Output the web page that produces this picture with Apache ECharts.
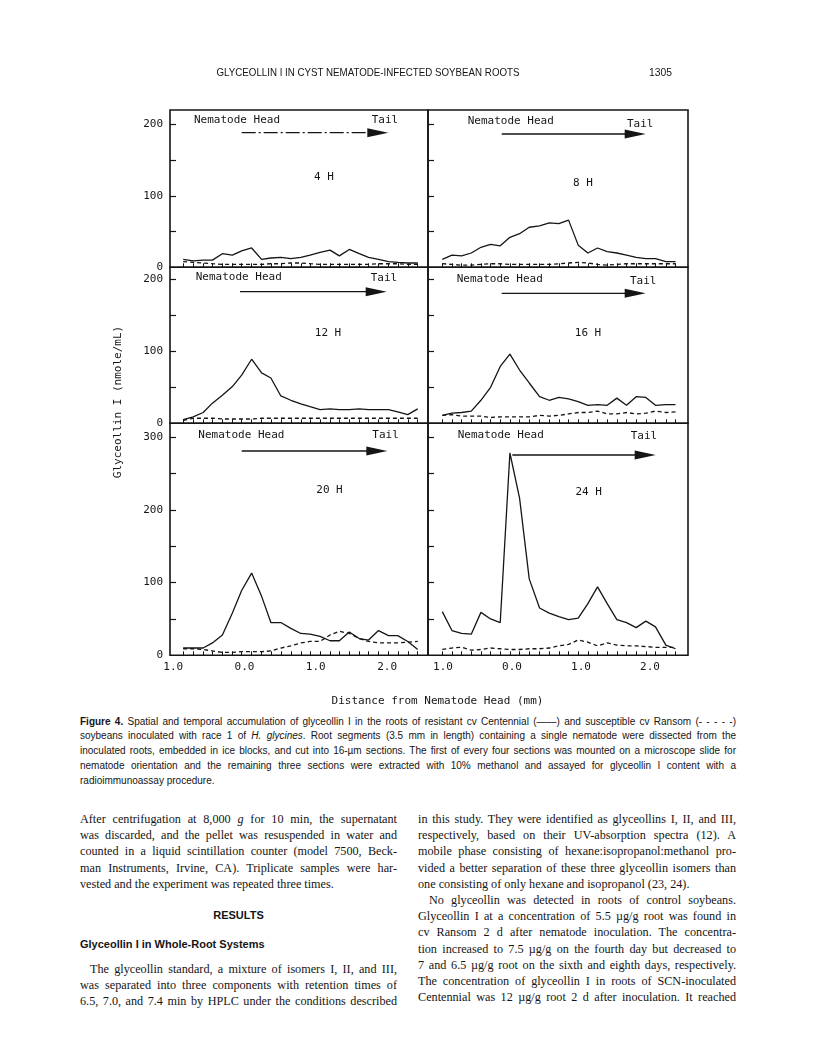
<!DOCTYPE html>
<html><head><meta charset="utf-8">
<script src="https://cdn.jsdelivr.net/npm/echarts@6/dist/echarts.min.js"></script>
<style>
html,body{margin:0;padding:0;background:#fff;}
body{width:816px;height:1052px;position:relative;overflow:hidden;}
#chart{position:absolute;left:0;top:0;width:816px;height:715px;}
#hdr{position:absolute;left:0;top:60px;width:816px;height:20px;}
.t{position:absolute;color:#151515;}
.j{text-align:justify;text-align-last:justify;}
.cap{font-family:'Liberation Sans',Arial,sans-serif;font-size:10px;line-height:14.8px;left:80px;width:656px;}
.bd{font-family:'Liberation Serif','Times New Roman',serif;font-size:12.2px;line-height:16.2px;}
.L{left:80px;width:317px;}
.R{left:418px;width:318px;}
.hs{font-family:'Liberation Sans',Arial,sans-serif;font-weight:bold;font-size:11px;line-height:16px;}
</style></head>
<body>
<div id="chart"></div>

<svg id="hdr" width="816" height="20" xmlns="http://www.w3.org/2000/svg">
  <text x="216.5" y="16" font-family="Liberation Sans, Arial, sans-serif" font-size="10.2" fill="#151515" textLength="303" lengthAdjust="spacingAndGlyphs">GLYCEOLLIN I IN CYST NEMATODE-INFECTED SOYBEAN ROOTS</text>
  <text x="649" y="16" font-family="Liberation Sans, Arial, sans-serif" font-size="10.2" fill="#151515" textLength="23" lengthAdjust="spacingAndGlyphs">1305</text>
</svg>

<div class="t cap j" style="top:714.6px;"><b>Figure 4.</b> Spatial and temporal accumulation of glyceollin I in the roots of resistant cv Centennial (——) and susceptible cv Ransom (- - - - -)</div>
<div class="t cap j" style="top:729.4px;">soybeans inoculated with race 1 of <i>H. glycines</i>. Root segments (3.5 mm in length) containing a single nematode were dissected from the</div>
<div class="t cap j" style="top:744.2px;">inoculated roots, embedded in ice blocks, and cut into 16-µm sections. The first of every four sections was mounted on a microscope slide for</div>
<div class="t cap j" style="top:759px;">nematode orientation and the remaining three sections were extracted with 10% methanol and assayed for glyceollin I content with a</div>
<div class="t cap" style="top:773.8px;">radioimmunoassay procedure.</div>

<div class="t bd L j" style="top:811px;">After centrifugation at 8,000 <i>g</i> for 10 min, the supernatant</div>
<div class="t bd L j" style="top:827.2px;">was discarded, and the pellet was resuspended in water and</div>
<div class="t bd L j" style="top:843.4px;">counted in a liquid scintillation counter (model 7500, Beck-</div>
<div class="t bd L j" style="top:859.6px;">man Instruments, Irvine, CA). Triplicate samples were har-</div>
<div class="t bd L" style="top:875.8px;">vested and the experiment was repeated three times.</div>
<div class="t hs L" style="top:907px;text-align:center;">RESULTS</div>
<div class="t hs L" style="top:936px;">Glyceollin I in Whole-Root Systems</div>
<div class="t bd j" style="left:90px;width:307px;top:961px;">The glyceollin standard, a mixture of isomers I, II, and III,</div>
<div class="t bd L j" style="top:977.2px;">was separated into three components with retention times of</div>
<div class="t bd L j" style="top:993.4px;">6.5, 7.0, and 7.4 min by HPLC under the conditions described</div>

<div class="t bd R j" style="top:811px;">in this study. They were identified as glyceollins I, II, and III,</div>
<div class="t bd R j" style="top:827.2px;">respectively, based on their UV-absorption spectra (12). A</div>
<div class="t bd R j" style="top:843.4px;">mobile phase consisting of hexane:isopropanol:methanol pro-</div>
<div class="t bd R j" style="top:859.6px;">vided a better separation of these three glyceollin isomers than</div>
<div class="t bd R" style="top:875.8px;">one consisting of only hexane and isopropanol (23, 24).</div>
<div class="t bd j" style="left:429px;width:307px;top:892px;">No glyceollin was detected in roots of control soybeans.</div>
<div class="t bd R j" style="top:908.2px;">Glyceollin I at a concentration of 5.5 µg/g root was found in</div>
<div class="t bd R j" style="top:924.4px;">cv Ransom 2 d after nematode inoculation. The concentra-</div>
<div class="t bd R j" style="top:940.6px;">tion increased to 7.5 µg/g on the fourth day but decreased to</div>
<div class="t bd R j" style="top:956.8px;">7 and 6.5 µg/g root on the sixth and eighth days, respectively.</div>
<div class="t bd R j" style="top:973px;">The concentration of glyceollin I in roots of SCN-inoculated</div>
<div class="t bd R j" style="top:989.2px;">Centennial was 12 µg/g root 2 d after inoculation. It reached</div>

<script>
// ---- data (distance from nematode head, mm; glyceollin I, nmole/mL) ----
const xsLeft  = [-0.86,-0.72,-0.58,-0.45,-0.31,-0.17,-0.04,0.10,0.24,0.37,0.51,0.65,0.79,0.92,1.06,1.20,1.33,1.47,1.61,1.74,1.88,2.02,2.15,2.29,2.43];
const xsRight = [-1.01,-0.87,-0.73,-0.59,-0.45,-0.31,-0.17,-0.03,0.11,0.25,0.40,0.54,0.68,0.82,0.96,1.10,1.24,1.38,1.52,1.66,1.80,1.94,2.08,2.23,2.37];

const centennial4H  = [11,9,10,10,19,17,23,27,11,13,14,12,14,17,21,24,16,25,19,14,11,8,7,6,6];
const ransom4H      = [8,7,6,5,4,4,4,4,4,5,5,6,6,5,4,4,4,4,4,4,5,5,5,4,4];
const centennial8H  = [11,17,16,20,28,32,30,42,47,56,58,62,61,66,31,20,27,22,20,17,14,12,12,8,8];
const ransom8H      = [5,4,3,3,4,5,5,4,4,4,4,4,5,6,7,6,4,3,4,5,5,5,5,5,5];
const centennial12H = [5,9,15,28,39,51,67,89,70,63,38,32,27,23,19,20,19,19,20,19,19,19,16,12,20];
const ransom12H     = [4,7,7,7,6,6,6,6,7,7,7,7,7,7,7,7,7,7,7,7,7,7,7,7,7];
const centennial16H = [11,14,15,17,32,50,79,96,74,56,37,32,36,34,30,25,26,25,35,25,37,36,25,26,26];
const ransom16H     = [11,12,10,10,10,8,9,9,9,9,11,10,11,13,15,15,17,13,13,15,13,14,17,15,16];
const centennial20H = [10,10,10,17,28,58,89,113,81,45,45,37,30,29,26,20,20,32,23,21,34,27,27,19,8];
const ransom20H     = [9,9,8,6,4,4,5,5,5,6,10,13,17,19,19,28,33,30,23,19,17,17,17,18,19];
const centennial24H = [60,34,30,29,59,50,45,278,216,105,65,58,53,49,51,71,94,71,49,45,38,47,39,14,9];
const ransom24H     = [8,10,11,7,8,10,9,8,8,9,9,10,13,15,21,18,13,17,14,13,13,12,11,11,11];

const panelLabels = ['4 H','8 H','12 H','16 H','20 H','24 H'];
const yTicksTop = [50,100,150,200];
const yLabelsTop = [0,100,200];
const yTicksBottom = [50,100,150,200,250,300];
const yLabelsBottom = [0,100,200,300];
const xLabelValues = [-1,0,1,2];

const centennial = [centennial4H,centennial8H,centennial12H,centennial16H,centennial20H,centennial24H];
const ransom = [ransom4H,ransom8H,ransom12H,ransom16H,ransom20H,ransom24H];

// ---- layout ----
const grids = [
  {left:170, top:110,   width:258, height:157.3},
  {left:428, top:110,   width:260, height:157.3},
  {left:170, top:267.3, width:258, height:156},
  {left:428, top:267.3, width:260, height:156},
  {left:170, top:423.3, width:258, height:232},
  {left:428, top:423.3, width:260, height:232}
];
const yMax = [220,220,216.7,216.7,318.8,318.8];
const xRangeLeft = [-1.045, 2.574];
const xRangeRight = [-1.217, 2.551];
const ann = [
  {head:[194,120],   tail:[371.7,120], lab:[324,176.7],   arrow:[241.7,388.3,132.7], dash:[14,3,2,3]},
  {head:[467.7,120.7], tail:[627,124], lab:[583,182.7],   arrow:[501.7,645.7,134],  dash:null},
  {head:[195.7,277.3], tail:[370.7,278], lab:[328,332.7], arrow:[240,386.7,291.7],  dash:null},
  {head:[456.7,279.3], tail:[630,281], lab:[588,332.7],   arrow:[501.7,645.7,293.3], dash:null},
  {head:[198.3,434.7], tail:[372.3,435], lab:[329.5,490], arrow:[241.7,387.3,451],  dash:null},
  {head:[457.7,435.3], tail:[630.7,436], lab:[588.7,491.7], arrow:[512.3,655.7,455], dash:null}
];

const MONO = "'DejaVu Sans Mono', 'Liberation Mono', monospace";
const INK = '#151515';

const option = {
  animation:false,
  backgroundColor:'#fff',
  grid: grids.map(g => Object.assign({show:true, borderColor:INK, borderWidth:1.6, backgroundColor:'transparent', containLabel:false, outerBoundsMode:'none'}, g)),
  xAxis: grids.map((g,i) => {
    const right = i % 2 === 1;
    const xs = right ? xsRight : xsLeft;
    const r = right ? xRangeRight : xRangeLeft;
    const bottom = i >= 4;
    return {
      type:'value', gridIndex:i, min:r[0], max:r[1], position:'bottom',
      axisLine:{show:false, onZero:false},
      splitLine:{show:false},
      axisTick:{show:true, inside:true, length:4, customValues:xs, lineStyle:{color:INK, width:1}},
      axisLabel:{show:bottom, customValues:xLabelValues, margin:6, color:INK, fontFamily:MONO, fontSize:11,
        formatter:v => Math.abs(v).toFixed(1)}
    };
  }),
  yAxis: grids.map((g,i) => {
    const bottom = i >= 4;
    const left = i % 2 === 0;
    return {
      type:'value', gridIndex:i, min:0, max:yMax[i], position:'left',
      axisLine:{show:false, onZero:false},
      splitLine:{show:false},
      axisTick:{show:true, inside:true, length:6, customValues: bottom ? yTicksBottom : yTicksTop, lineStyle:{color:INK, width:1.2}},
      axisLabel:{show:left, customValues: bottom ? yLabelsBottom : yLabelsTop, margin:7, color:INK, fontFamily:MONO, fontSize:11}
    };
  }),
  series: [],
  graphic: []
};

for (let i = 0; i < 6; i++) {
  const xs = (i % 2 === 1) ? xsRight : xsLeft;
  option.series.push({
    type:'line', xAxisIndex:i, yAxisIndex:i, symbol:'none', silent:true,
    data: xs.map((x,k) => [x, centennial[i][k]]),
    lineStyle:{color:INK, width:1.3}
  });
  option.series.push({
    type:'line', xAxisIndex:i, yAxisIndex:i, symbol:'none', silent:true,
    data: xs.map((x,k) => [x, ransom[i][k]]),
    lineStyle:{color:INK, width:1.3, type:[4,3]}
  });
  const a = ann[i];
  const txt = (x,y,s,align) => ({type:'text', x:x, y:y, silent:true,
    style:{text:s, fill:INK, font:'11px ' + MONO, textAlign:align||'left', textVerticalAlign:'middle'}});
  option.graphic.push(txt(a.head[0], a.head[1], 'Nematode Head'));
  option.graphic.push(txt(a.tail[0], a.tail[1], 'Tail'));
  option.graphic.push(txt(a.lab[0], a.lab[1], panelLabels[i], 'center'));
  const [x1,x2,y] = a.arrow;
  option.graphic.push({type:'line', silent:true, shape:{x1:x1, y1:y, x2:x2-18, y2:y},
    style:{stroke:INK, lineWidth:1.3, lineDash:a.dash || null}});
  option.graphic.push({type:'polygon', silent:true, shape:{points:[[x2-21,y-4.5],[x2,y],[x2-21,y+4.5]]},
    style:{fill:INK}});
}
option.graphic.push({type:'text', x:118, y:402, rotation:Math.PI/2, silent:true,
  style:{text:'Glyceollin I (nmole/mL)', fill:INK, font:'11px ' + MONO, textAlign:'center', textVerticalAlign:'middle'}});
option.graphic.push({type:'text', x:437.5, y:701, silent:true,
  style:{text:'Distance from Nematode Head (mm)', fill:INK, font:'11px ' + MONO, textAlign:'center', textVerticalAlign:'middle'}});

const chart = echarts.init(document.getElementById('chart'), null, {renderer:'canvas'});
chart.setOption(option);
</script>
</body></html>
